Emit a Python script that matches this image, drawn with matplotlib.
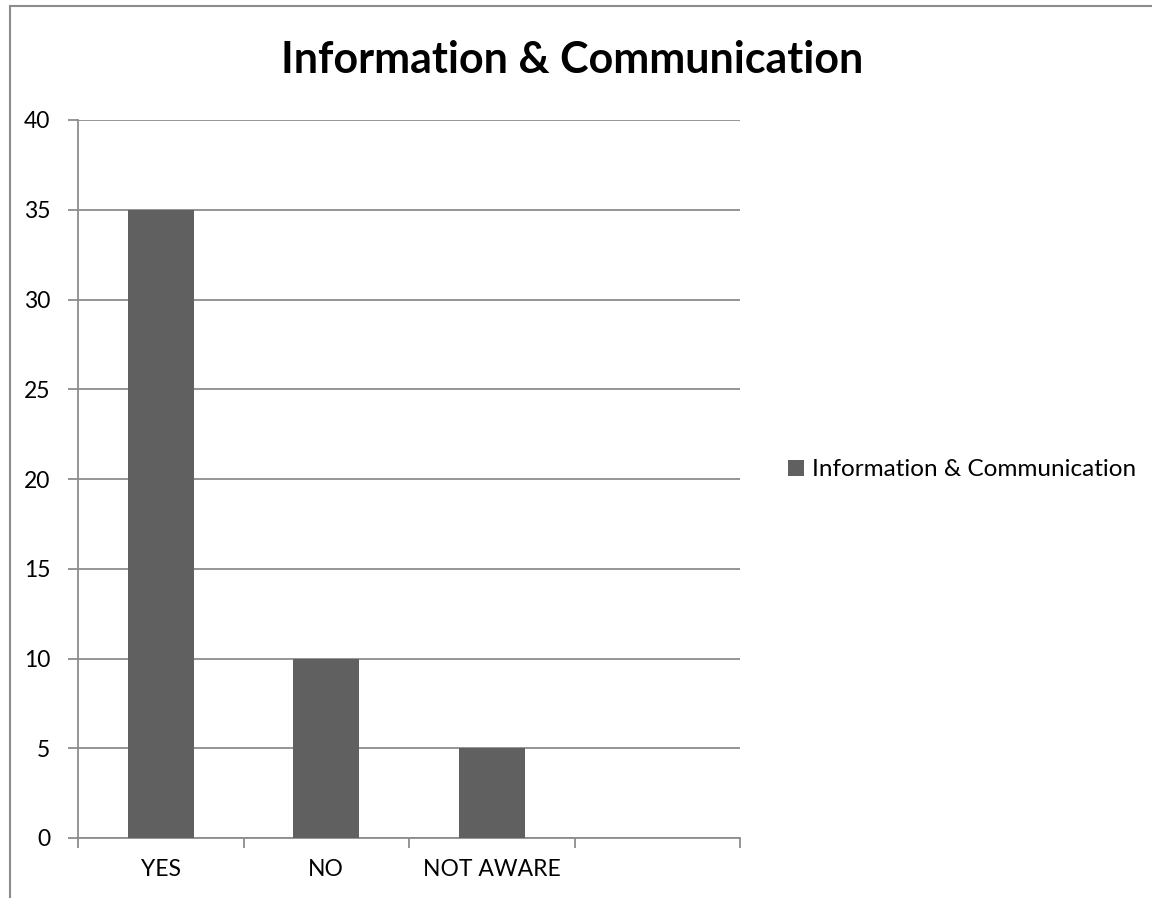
import matplotlib.pyplot as plt
from matplotlib.patches import Rectangle

# survey answers
categories = ['YES', 'NO', 'NOT AWARE']
counts = [35, 10, 5]
n_slots = 4  # the category axis keeps one empty slot on the right
series_name = 'Information & Communication'

plt.rcParams['font.family'] = ['Lato', 'DejaVu Sans']

fig = plt.figure(figsize=(11.52, 8.98), dpi=100)
ax = fig.add_axes([78 / 1152, 1 - 838 / 898, (740 - 78) / 1152, (838 - 120) / 898])

grid_col = '#8c8c8c'
bar_col = '#606060'

x = list(range(len(categories)))
ax.bar(x, counts, width=0.4, color=bar_col, zorder=3, label=series_name)

ax.set_xlim(-0.5, n_slots - 0.5)
ax.set_ylim(0, 40)
ax.set_yticks(range(0, 41, 5))
ax.grid(axis='y', color=grid_col, linewidth=1.3, zorder=0)
ax.set_axisbelow(True)

# tick marks on slot boundaries, labels in the middle of each slot
ax.set_xticks([i - 0.5 for i in range(n_slots + 1)])
ax.set_xticklabels([])
ax.set_xticks(x, minor=True)
ax.set_xticklabels(categories, minor=True)
ax.tick_params(axis='x', which='major', length=7, width=1.3, color=grid_col, direction='out')
ax.tick_params(axis='x', which='minor', length=0, pad=15, labelsize=16.5)
ax.tick_params(axis='y', length=7, width=1.3, color=grid_col, pad=13, labelsize=16.5)

for s in ['top', 'right']:
    ax.spines[s].set_visible(False)
for s in ['left', 'bottom']:
    ax.spines[s].set_color(grid_col)
    ax.spines[s].set_linewidth(1.3)

fig.text(572 / 1152, 1 - 60 / 898, series_name, ha='center', va='center',
         fontsize=31, fontweight='bold')

ax.legend(loc='center left', bbox_to_anchor=(766 / 1152, 1 - 470 / 898),
          bbox_transform=fig.transFigure, frameon=False, fontsize=17.5,
          handlelength=0.65, handleheight=0.65, handletextpad=0.35)

# chart area border
fig.patches.append(Rectangle((10 / 1152, -0.1), 1.2, 1.1 - 6 / 898,
                             transform=fig.transFigure, fill=False,
                             edgecolor='#8c8c8c', linewidth=1.5))

fig.savefig('out.png', dpi=100)
